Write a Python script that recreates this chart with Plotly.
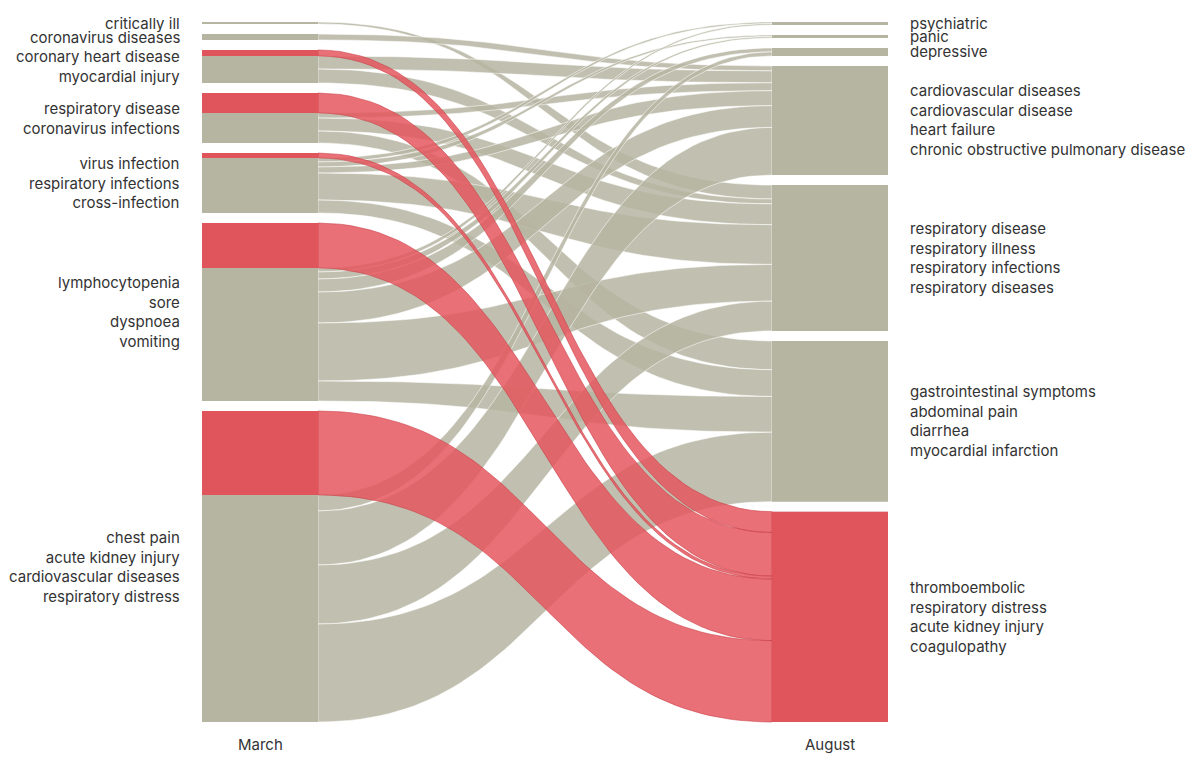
import plotly.graph_objects as go

# ---------------- data ----------------
march_labels = [
    "critically ill",
    "coronavirus diseases",
    "coronary heart disease<br>myocardial injury",
    "respiratory disease<br>coronavirus infections",
    "virus infection<br>respiratory infections<br>cross-infection",
    "lymphocytopenia<br>sore<br>dyspnoea<br>vomiting",
    "chest pain<br>acute kidney injury<br>cardiovascular diseases<br>respiratory distress",
]
august_labels = [
    "psychiatric",
    "panic",
    "depressive",
    "cardiovascular diseases<br>cardiovascular disease<br>heart failure<br>chronic obstructive pulmonary disease",
    "respiratory disease<br>respiratory illness<br>respiratory infections<br>respiratory diseases",
    "gastrointestinal symptoms<br>abdominal pain<br>diarrhea<br>myocardial infarction",
    "thromboembolic<br>respiratory distress<br>acute kidney injury<br>coagulopathy",
]
column_titles = ["March", "August"]
highlight_target = 6  # links flowing into this August cluster are highlighted

link_source = [2, 3, 4, 5, 6,
               0, 1, 2, 2, 3, 3, 3, 4, 4, 4, 4, 4, 5, 5, 5, 5, 5, 5, 6, 6, 6, 6]
link_target = [6, 6, 6, 6, 6,
               4, 3, 3, 4, 3, 4, 5, 0, 1, 3, 4, 5, 0, 1, 2, 3, 4, 5, 2, 3, 4, 5]
march_values = [6, 20, 5, 45, 84,
                2, 6, 13, 14, 5, 13, 12, 4, 5, 6, 27, 13, 4, 7, 13, 31, 58, 20, 16, 54, 59, 98]
august_values = [21, 44, 3, 62, 82,
                 14, 5, 12, 5, 8, 21, 29, 1.5, 1.5, 15, 40, 27, 1.5, 1.5, 4, 22, 37, 36, 4, 48, 30, 70]

# ---------------- style / layout constants ----------------
W, H = 1200, 766
PAGE_OFFSET = 8  # default body margin of the html page
TOP, BOTTOM, PAD = 22, 722, 10
LEFT_X0, RIGHT_X0, NODE_W = 202, 772, 116
GRAY_NODE = "rgb(182,181,162)"
GRAY_LINK = "rgba(182,181,162,0.85)"
RED_NODE = "rgb(224,84,92)"
RED_LINK = "rgba(228,88,96,0.86)"
FONT = "Inter, Roboto, 'Open Sans', sans-serif"
TEXT_COLOR = "#333333"


def column_layout(n_nodes, idx_list, values):
    totals = [0.0] * n_nodes
    for i, v in zip(idx_list, values):
        totals[i] += v
    k = (BOTTOM - TOP - (n_nodes - 1) * PAD) / sum(totals)
    starts, y = [], TOP
    for t in totals:
        starts.append(y)
        y += t * k + PAD
    return starts, totals, k


l_start, l_tot, kl = column_layout(len(march_labels), link_source, march_values)
r_start, r_tot, kr = column_layout(len(august_labels), link_target, august_values)

# stack link ends in list order
l_cursor = list(l_start)
r_cursor = list(r_start)
link_geo = []
for s, t, mv, av in zip(link_source, link_target, march_values, august_values):
    ya0 = l_cursor[s]; ya1 = ya0 + mv * kl; l_cursor[s] = ya1
    yb0 = r_cursor[t]; yb1 = yb0 + av * kr; r_cursor[t] = yb1
    link_geo.append((s, t, ya0, ya1, yb0, yb1, mv, av))


def bez(p0, p1, p2, p3, tt):
    u = 1 - tt
    return u ** 3 * p0 + 3 * u * u * tt * p1 + 3 * u * tt * tt * p2 + tt ** 3 * p3


def ribbon(x0, x1, ya0, ya1, yb0, yb1, n=60):
    xm = (x0 + x1) / 2
    ts = [i / n for i in range(n + 1)]
    xs, ys = [], []
    for tt in ts:
        xs.append(bez(x0, xm, xm, x1, tt)); ys.append(bez(ya0, ya0, yb0, yb0, tt))
    for tt in reversed(ts):
        xs.append(bez(x0, xm, xm, x1, tt)); ys.append(bez(ya1, ya1, yb1, yb1, tt))
    xs.append(xs[0]); ys.append(ys[0])
    return xs, ys


fig = go.Figure()
x_link0 = LEFT_X0 + NODE_W
x_link1 = RIGHT_X0

# gray links first, highlighted links on top
for red_pass in (False, True):
    for s, t, ya0, ya1, yb0, yb1, mv, av in link_geo:
        is_red = (t == highlight_target)
        if is_red != red_pass:
            continue
        xs, ys = ribbon(x_link0, x_link1, ya0, ya1, yb0, yb1)
        fig.add_trace(go.Scatter(
            x=xs, y=ys, mode="lines", fill="toself",
            fillcolor=RED_LINK if is_red else GRAY_LINK,
            line=dict(color="rgba(200,55,65,0.9)" if is_red else "rgba(255,255,255,0.9)", width=0.6),
            hoverinfo="text",
            text=f"{march_labels[s].replace('<br>', ', ')} → {august_labels[t].replace('<br>', ', ')}",
            showlegend=False,
        ))


def rect(x0, x1, y0, y1):
    return [x0, x1, x1, x0, x0, None], [y0, y0, y1, y1, y0, None]


# nodes: gray base, red segments for highlighted links
for col, (starts, tots, k, x0) in enumerate([(l_start, l_tot, kl, LEFT_X0), (r_start, r_tot, kr, RIGHT_X0)]):
    gx, gy = [], []
    for st, tot in zip(starts, tots):
        a, b = rect(x0, x0 + NODE_W, st, st + max(tot * k, 1.2))
        gx += a; gy += b
    fig.add_trace(go.Scatter(x=gx, y=gy, mode="lines", fill="toself", fillcolor=GRAY_NODE,
                             line=dict(width=0), hoverinfo="skip", showlegend=False))
    rx, ry = [], []
    for s, t, ya0, ya1, yb0, yb1, mv, av in link_geo:
        if t != highlight_target:
            continue
        y0, y1 = (ya0, ya1) if col == 0 else (yb0, yb1)
        a, b = rect(x0, x0 + NODE_W, y0, y1)
        rx += a; ry += b
    fig.add_trace(go.Scatter(x=rx, y=ry, mode="lines", fill="toself", fillcolor=RED_NODE,
                             line=dict(width=0), hoverinfo="skip", showlegend=False))

annotations = []
for lab, st, tot in zip(march_labels, l_start, l_tot):
    annotations.append(dict(x=LEFT_X0 - 20, y=st + tot * kl / 2, text=lab, showarrow=False,
                            xanchor="right", yanchor="middle", align="right",
                            font=dict(family=FONT, size=15, color=TEXT_COLOR)))
for lab, st, tot in zip(august_labels, r_start, r_tot):
    annotations.append(dict(x=RIGHT_X0 + NODE_W + 20, y=st + tot * kr / 2, text=lab, showarrow=False,
                            xanchor="left", yanchor="middle", align="left",
                            font=dict(family=FONT, size=15, color=TEXT_COLOR)))
for title, x0 in zip(column_titles, (LEFT_X0, RIGHT_X0)):
    annotations.append(dict(x=x0 + NODE_W / 2, y=BOTTOM + 22, text=title, showarrow=False,
                            xanchor="center", yanchor="middle",
                            font=dict(family=FONT, size=15, color=TEXT_COLOR)))

fig.update_layout(
    width=W - PAGE_OFFSET, height=H - PAGE_OFFSET,
    margin=dict(l=0, r=0, t=0, b=0),
    paper_bgcolor="white", plot_bgcolor="white",
    xaxis=dict(range=[PAGE_OFFSET, W], visible=False, fixedrange=True),
    yaxis=dict(range=[H, PAGE_OFFSET], visible=False, fixedrange=True),
    annotations=annotations,
    showlegend=False,
)

fig.write_html("out.html")
